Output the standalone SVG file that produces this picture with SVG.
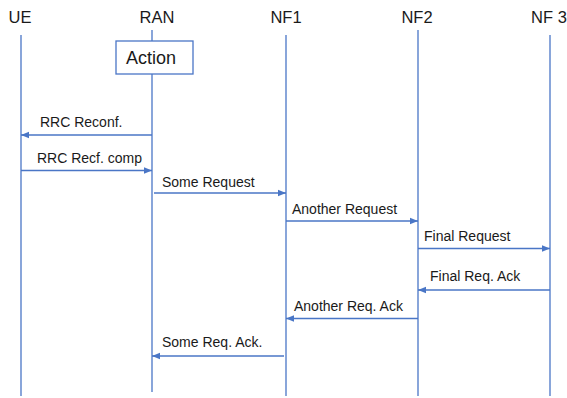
<svg xmlns="http://www.w3.org/2000/svg" width="567" height="398" viewBox="0 0 567 398">
<style>
.life{stroke:#4a76c6;stroke-width:1.3;fill:none}
.msg{stroke:#4a76c6;stroke-width:1.3;fill:none;marker-end:url(#ah)}
.hdr{font-family:"Liberation Sans",Arial,sans-serif;font-size:16.5px;fill:#1a1a1a;text-anchor:middle}
.lbl{font-family:"Liberation Sans",Arial,sans-serif;font-size:14px;fill:#1a1a1a}
.act{font-family:"Liberation Sans",Arial,sans-serif;font-size:18px;fill:#1a1a1a;text-anchor:middle}
</style>
<defs>
<marker id="ah" viewBox="0 0 10 10" refX="10" refY="5" markerWidth="8" markerHeight="8" markerUnits="userSpaceOnUse" orient="auto">
<path d="M0,1 L10,5 L0,9 Z" fill="#4a76c6"/>
</marker>
</defs>
<rect width="567" height="398" fill="#fff"/>
<g id="UE">
<text class="hdr" x="20" y="23">UE</text>
<line class="life" x1="21" y1="35" x2="21" y2="396"/>
</g>
<g id="RAN">
<text class="hdr" x="157" y="23">RAN</text>
<line class="life" x1="152" y1="30" x2="152" y2="392"/>
</g>
<g id="Action">
<rect x="116" y="41" width="77" height="33" fill="#fff" stroke="#4a76c6" stroke-width="1.3"/>
<text class="act" x="151" y="64">Action</text>
</g>
<g id="NF1">
<text class="hdr" x="286" y="23">NF1</text>
<line class="life" x1="286" y1="35" x2="286" y2="396"/>
</g>
<g id="NF2">
<text class="hdr" x="417" y="23">NF2</text>
<line class="life" x1="418" y1="30" x2="418" y2="396"/>
</g>
<g id="NF3">
<text class="hdr" x="549" y="23">NF 3</text>
<line class="life" x1="550" y1="35" x2="550" y2="396"/>
</g>
<g id="connectors">
<line class="msg" x1="152" y1="135" x2="21" y2="135"/>
<text class="lbl" x="40" y="127">RRC Reconf.</text>
<line class="msg" x1="21" y1="170.5" x2="152" y2="170.5"/>
<text class="lbl" x="37" y="163">RRC Recf. comp</text>
<line class="msg" x1="154" y1="193" x2="286" y2="193"/>
<text class="lbl" x="162" y="187">Some Request</text>
<line class="msg" x1="286" y1="221" x2="418" y2="221"/>
<text class="lbl" x="292" y="214">Another Request</text>
<line class="msg" x1="418" y1="248.5" x2="550" y2="248.5"/>
<text class="lbl" x="424" y="241">Final Request</text>
<line class="msg" x1="550" y1="290" x2="418" y2="290"/>
<text class="lbl" x="430" y="281">Final Req. Ack</text>
<line class="msg" x1="418" y1="318.5" x2="286" y2="318.5"/>
<text class="lbl" x="294" y="311">Another Req. Ack</text>
<line class="msg" x1="284" y1="356" x2="152" y2="356"/>
<text class="lbl" x="162" y="347">Some Req. Ack.</text>
</g>
</svg>
